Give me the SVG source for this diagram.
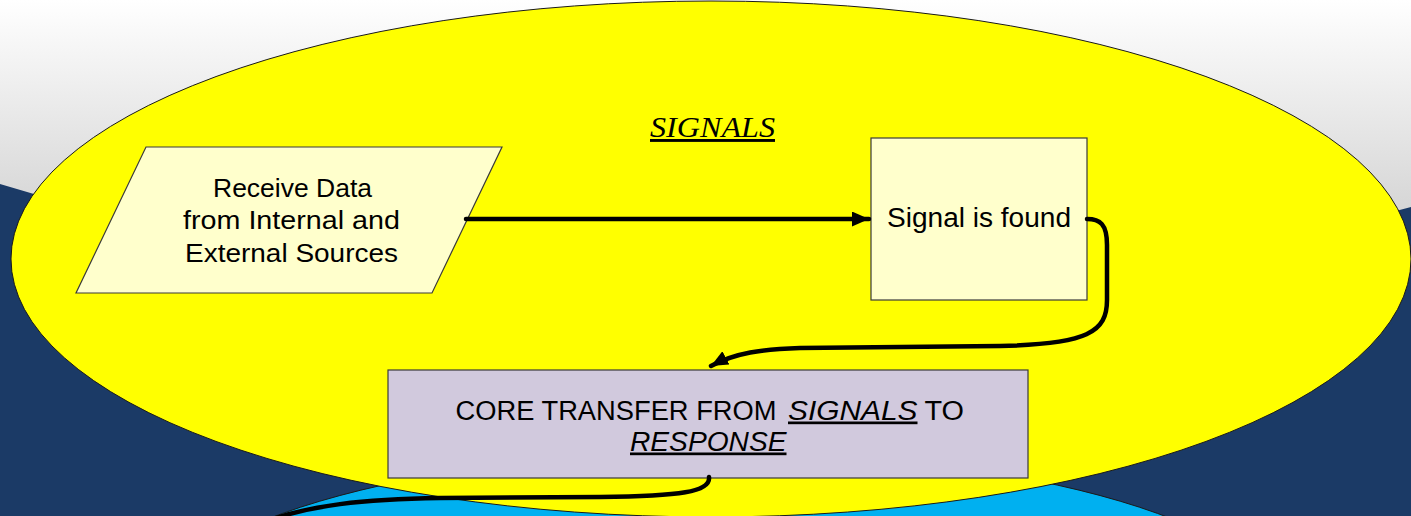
<svg xmlns="http://www.w3.org/2000/svg" width="1411" height="516" viewBox="0 0 1411 516">
  <defs>
    <linearGradient id="sky" x1="0" y1="0" x2="0" y2="1">
      <stop offset="0" stop-color="#ffffff"/>
      <stop offset="1" stop-color="#d2d2d2"/>
    </linearGradient>
    <marker id="arrow" markerUnits="userSpaceOnUse" markerWidth="20" markerHeight="18" refX="17" refY="7.5" orient="auto">
      <path d="M0,0 L17,7.5 L0,15 Z" fill="#000"/>
    </marker>
    <style>
      .node { stroke: #3a3a3a; stroke-width: 1.2; }
      .txt { font-family: "Liberation Sans", Arial, sans-serif; fill: #000; }
      .conn { fill: none; stroke: #000; stroke-width: 4.5; stroke-linecap: round; stroke-linejoin: round; }
      .edge { stroke: #1a1a1a; stroke-width: 1; }
    </style>
  </defs>

  <g id="background">
    <rect x="0" y="0" width="1411" height="230" fill="url(#sky)"/>
    <path d="M0,184 Q700,400 1411,207 L1411,516 L0,516 Z" fill="#1b3a66"/>
    <ellipse cx="720" cy="620" rx="566" ry="168" fill="#00b0f0" class="edge"/>
  </g>

  <g id="region-signals">
    <ellipse cx="711" cy="259" rx="700" ry="258" fill="#ffff00" class="edge"/>
    <text x="650" y="137" font-size="29" font-style="italic" text-decoration="underline" textLength="125" lengthAdjust="spacingAndGlyphs" style="font-family:'Liberation Serif','Times New Roman',serif;fill:#000">SIGNALS</text>
  </g>

  <g id="node-receive">
    <polygon points="146,147 502,147 432,293 76,293" fill="#ffffcc" class="node"/>
    <text class="txt" font-size="26" x="213" y="196.5" textLength="159" lengthAdjust="spacingAndGlyphs">Receive Data</text>
    <text class="txt" font-size="26" x="183" y="229" textLength="217" lengthAdjust="spacingAndGlyphs">from Internal and</text>
    <text class="txt" font-size="26" x="185" y="261.5" textLength="213" lengthAdjust="spacingAndGlyphs">External Sources</text>
  </g>

  <g id="node-signal">
    <rect x="871" y="138" width="216" height="162" fill="#ffffcc" class="node"/>
    <text class="txt" font-size="27" x="887" y="226.5" textLength="184" lengthAdjust="spacingAndGlyphs">Signal is found</text>
  </g>

  <g id="node-core">
    <rect x="388" y="370" width="640" height="108" fill="#d1c9dd" class="node"/>
    <text class="txt" font-size="27" x="455.5" y="419.5" textLength="321" lengthAdjust="spacingAndGlyphs">CORE TRANSFER FROM</text>
    <text class="txt" font-size="27" x="788" y="419.5" font-style="italic" text-decoration="underline" textLength="129.5" lengthAdjust="spacingAndGlyphs">SIGNALS</text>
    <text class="txt" font-size="27" x="924.5" y="419.5" textLength="39.5" lengthAdjust="spacingAndGlyphs">TO</text>
    <text class="txt" font-size="27" x="630" y="450.5" font-style="italic" text-decoration="underline" textLength="156.5" lengthAdjust="spacingAndGlyphs">RESPONSE</text>
  </g>

  <g id="connectors">
    <path class="conn" d="M466,219 L869,219" marker-end="url(#arrow)" stroke-linecap="butt"/>
    <path class="conn" d="M1087,219 C1100,219 1107,224 1107,245 L1107,300 C1107,332 1088,344 1000,346 L800,348 C762,349 735,353 711,366" marker-end="url(#arrow)"/>
    <path class="conn" d="M709,477 C711,492 680,496 600,497 L440,498 C360,499 310,506 270,520"/>
  </g>
</svg>
